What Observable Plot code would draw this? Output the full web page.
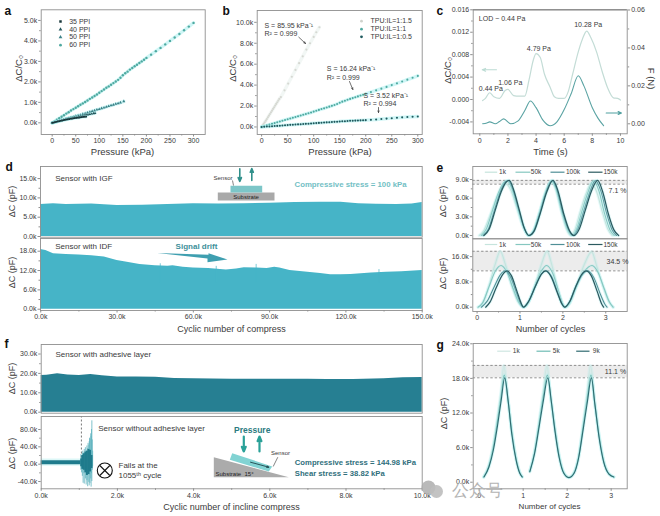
<!DOCTYPE html>
<html><head><meta charset="utf-8">
<script src="https://cdn.jsdelivr.net/npm/d3@7"></script>
<script src="https://cdn.jsdelivr.net/npm/@observablehq/plot@0.6"></script>
<style>
html,body{margin:0;padding:0;background:#fff;width:660px;height:516px;overflow:hidden}
#page{position:relative;width:660px;height:516px}
#page svg{position:absolute;left:0;top:0;background:transparent}
</style></head><body><div id="page"></div>
<script>
// ---------- panel a: pressure (kPa) / dC/C0 (thousands)
const a35x=[0,3,6,9,12,15,18,21,24,27,30,33,36,39,42,45,48,51,54,57,60,63,66,69,72];
const a35y=[0,.01,.03,.05,.07,.08,.1,.11,.13,.14,.16,.17,.18,.2,.21,.22,.23,.24,.25,.26,.27,.28,.29,.295,.3];
const a40x=[0,4,8,12,16,20,24,28,32,36,40,44,48,52,56,60,64,68,72,76,80,84,88,91];
const a40y=[0,.02,.05,.08,.1,.13,.15,.18,.2,.22,.24,.26,.28,.3,.32,.33,.35,.37,.39,.4,.42,.44,.46,.47];
const a50x=[0,5,10,15,20,25,30,35,40,45,50,55,60,65,70,75,80,85,90,95,100,105,110,115,120,125,130,135,140,145,152];
const a50y=[0,.03,.06,.1,.13,.16,.2,.23,.26,.29,.33,.36,.39,.43,.46,.5,.53,.57,.6,.64,.67,.71,.74,.78,.81,.85,.88,.92,.95,.99,1.05];
const a60x=[0,5,10,15,20,25,30,35,40,45,50,55,60,65,70,75,80,85,90,95,100,105,110,115,120,125,130,135,140,145,150,155,160,165,170,175,180,185,190,195,200,210,220,230,240,250,260,270,280,290,300];
const a60y=[0,.07,.15,.22,.3,.37,.45,.52,.6,.67,.74,.81,.88,.95,1.02,1.09,1.17,1.24,1.31,1.38,1.47,1.55,1.63,1.71,1.78,1.86,1.94,2.02,2.1,2.2,2.32,2.42,2.5,2.6,2.68,2.76,2.84,2.92,3,3.08,3.17,3.33,3.5,3.66,3.83,4,4.17,4.34,4.52,4.7,4.88];
// ---------- panel b
const b15x=[0,2,4,6,8,10,12,14,16,18,20,22,24,26,28,30,32,34,37,44,51,58,65,72,79,86,93,100,105,111];
const b15y=[0,.15,.3,.45,.6,.75,.92,1.08,1.24,1.4,1.56,1.72,1.88,2.04,2.2,2.36,2.52,2.68,2.86,3.5,4.15,4.8,5.45,6.1,6.75,7.4,8,8.6,9.05,9.53];
const b10x=a60x, b10y=a60y;
const b05x=[0,5,10,15,20,25,30,35,40,45,50,55,60,65,70,75,80,85,90,95,100,105,110,115,120,125,130,135,140,145,150,155,160,165,170,175,180,185,190,195,200,210,220,230,240,250,260,270,280,290,300];
const b05y=[0,.02,.04,.05,.07,.09,.1,.12,.14,.16,.18,.2,.21,.23,.25,.26,.28,.3,.31,.33,.35,.37,.39,.4,.42,.44,.45,.47,.49,.5,.52,.54,.55,.57,.59,.6,.61,.62,.63,.64,.65,.68,.72,.76,.8,.84,.88,.92,.95,.98,1];
// ---------- panel c
const cLeftT=[.2,.4,.7,1,1.4,1.8,2,2.4,2.8,3.2,3.5,3.8,4,4.3,4.6,5,5.3,5.6,6,6.3,6.6,7,7.3,7.6,7.9,8.3,8.7,9.1,9.5,9.8,10];
const cLeftV=[-.0002,.0002,.0012,.0005,.0002,.0016,.0018,.0007,.0006,.0006,.0035,.007,.0082,.0075,.0045,.0022,.0005,.0002,.0002,.0015,.0045,.0085,.0108,.0122,.011,.0085,.005,.002,.0003,.0002,-.0001];
const cRightT=[.2,.5,.7,1.1,1.4,1.7,2.2,2.7,3.2,3.6,4,4.5,5,5.5,6,6.5,7,7.4,8,8.4,8.8];
const cRightF=[0,.0004,.001,0,.0012,.0026,0,.0014,.007,.012,.0085,.0018,-.001,.0012,.0075,.016,.0253,.02,.0085,.003,-.001];
const cPeaks=["0.44 Pa","1.06 Pa","4.79 Pa","10.28 Pa"];
// ---------- panel d: envelope of the cycled signal, cycles (k) / pF (k)
const d1x=[0,5,10,20,30,40,50,60,70,80,90,100,110,118,125,132,140,146,150];
const d1y=[8.3,8.5,8.3,8.4,8,8.1,8.3,8.5,8.4,8.5,8.6,8.8,8.9,8.85,8.5,8.35,8.3,8.45,8.8];
const d2x=[0,2,5,10,15,20,25,30,34,39,45,50,52,56,60,66,73,77,80,85,89,92,94,98,105,110,114,118,122,126,130,136,142,150];
const d2y=[18.5,18.2,17.2,17,16.8,16.6,16.2,15.1,14.6,13.9,13.5,13.3,13.5,13,12.75,12.6,12.2,12.5,12.9,12.8,12.6,13,12.8,12,11.5,11.1,10.7,10.7,10.8,11,11.2,11.5,11.6,12];
const d2spikes=[[47,14.1],[69,13.3],[84.7,13.9],[133,12.3]];
// ---------- panel e
const e1a=[[.05,0],[.15,.7],[.3,3.2],[.45,5.9],[.58,7.6],[.68,8.25],[.78,7.4],[.92,4.6],[1.06,1.6],[1.18,.1],[1.22,0],[1.32,.9],[1.46,3.9],[1.6,7.1],[1.72,8.6],[1.82,7.7],[1.96,4],[2.08,1.1],[2.18,0],[2.28,.9],[2.4,3.7],[2.54,6.7],[2.66,8.4],[2.78,7.2],[2.92,3.8],[3.05,1],[3.15,0]];
const e1b=[[.1,0],[.22,1.1],[.36,4],[.5,6.9],[.62,8.5],[.7,8.8],[.8,7.7],[.94,4.6],[1.08,1.5],[1.2,0],[1.32,.8],[1.46,3.8],[1.6,7],[1.73,8.8],[1.84,7.6],[1.98,3.8],[2.12,.8],[2.22,0],[2.32,1],[2.45,4],[2.59,7],[2.71,8.8],[2.84,7.2],[2.97,3.6],[3.1,.9],[3.2,0]];
const e1c=[[.14,0],[.26,1],[.4,4],[.54,7],[.66,8.6],[.73,8.85],[.83,7.5],[.96,4.4],[1.09,1.3],[1.2,0],[1.32,.7],[1.46,3.5],[1.6,6.8],[1.75,8.85],[1.86,7.4],[2,3.6],[2.14,.8],[2.24,0],[2.35,1],[2.49,4],[2.63,7],[2.76,8.85],[2.89,7.1],[3.02,3.6],[3.15,.9],[3.25,0]];
const e1d=[[.16,0],[.28,1],[.42,4],[.56,7],[.68,8.6],[.75,8.85],[.85,7.4],[.98,4.2],[1.1,1.2],[1.21,0],[1.33,.7],[1.47,3.5],[1.62,6.9],[1.77,8.85],[1.88,7.3],[2.02,3.5],[2.16,.7],[2.26,0],[2.38,1],[2.52,4],[2.67,7.2],[2.81,8.85],[2.93,7],[3.06,3.5],[3.19,.9],[3.3,0]];
const e2a=[[.03,0],[.14,1.4],[.28,7],[.42,13.5],[.54,17.7],[.66,13.5],[.8,7],[.95,1.8],[1.08,0],[1.2,1.5],[1.34,6.5],[1.5,13.5],[1.63,17.7],[1.75,13],[1.88,6],[1.98,1.5],[2.05,0],[2.16,1.2],[2.3,6],[2.5,13.5],[2.67,17.5],[2.8,12.5],[2.95,6],[3.08,1.5],[3.18,0]];
const e2b=[[.02,0],[.12,1.2],[.28,6.5],[.42,11.3],[.56,13.2],[.7,11],[.84,6],[.98,1.4],[1.08,0],[1.2,1.6],[1.34,6.5],[1.5,11.5],[1.62,13.2],[1.76,10.8],[1.9,5],[2,1],[2.05,0],[2.16,1.4],[2.3,6],[2.5,11.3],[2.68,13.2],[2.82,11],[2.96,6],[3.08,1.8],[3.17,0]];
const e2c=[[.1,0],[.24,2],[.4,6.5],[.55,10.4],[.66,11.5],[.78,9.6],[.92,4.5],[1.02,1],[1.08,0],[1.2,1.8],[1.36,6.6],[1.5,10.5],[1.6,11.5],[1.74,9.6],[1.88,4.6],[1.98,1],[2.04,0],[2.16,1.8],[2.3,6.5],[2.46,10.4],[2.58,11.5],[2.72,9.4],[2.86,4.6],[2.97,1.2],[3.03,0]];
const e2d=[[.2,0],[.3,1.6],[.44,6],[.6,10.4],[.7,11.5],[.8,10],[.93,5],[1.03,1.2],[1.08,0],[1.2,1.8],[1.36,6.6],[1.5,10.5],[1.6,11.5],[1.72,9.8],[1.86,5],[1.98,1],[2.04,0],[2.16,1.8],[2.3,6.5],[2.44,10.4],[2.54,11.5],[2.66,10],[2.8,5],[2.9,1.2],[2.95,0]];
const eNames=["1k","50k","100k","150k"];
const e1Band=[8.25,8.86], e2Band=[11.5,17.7];
// ---------- panel f
const f1x=[0,.15,.43,.7,1,1.3,1.6,2,2.5,3,3.5,4,5,6,7,7.5,8.2,9,9.5,10];
const f1y=[18.9,19,19.8,19.2,18.9,19.4,18.8,18.2,18.1,18,17.4,17.3,17,17,17,16.9,16.8,17.2,17.7,17.9];
const f2Band=[[0,7.7,-1.5],[1.05,7.7,-1.5]];
const f2Spikes=[[1.04,-14,22],[1.06,-20,14],[1.08,-28,24],[1.09,-12,30],[1.1,-44,19],[1.12,-22,26],[1.13,-46,34],[1.15,-18,24],[1.16,-34,38],[1.18,-48,30],[1.19,-26,22],[1.2,-38,42],[1.22,-52,36],[1.23,-20,48],[1.25,-42,44],[1.26,-50,52],[1.27,-24,60],[1.28,-45,58],[1.3,-34,70],[1.31,-53,64],[1.32,-22,80],[1.33,-40,100],[1.34,-14,56],[1.35,-6,30]];
const f2Core=[[1.05,-6,12],[1.08,-12,20],[1.12,-14,24],[1.16,-20,28],[1.2,-26,30],[1.24,-24,34],[1.28,-18,32],[1.32,-10,20]];
const fFailCycle=1.055;
// ---------- panel g
const gA=[[.1,.9],[.22,3],[.32,6.5],[.42,11.5],[.5,16],[.56,20.2],[.64,15.5],[.74,9],[.84,4.2],[.92,1.8],[.98,1],[1.06,null],[1.15,2],[1.26,5.5],[1.36,10.5],[1.46,16],[1.54,20.2],[1.62,15],[1.72,9.5],[1.82,4.6],[1.92,1.8],[2.04,.9],[2.16,1.8],[2.26,4.6],[2.36,10],[2.46,16],[2.53,20.2],[2.62,14.5],[2.73,8],[2.83,3.8],[2.95,1.5],[3.06,.9]];
const gB=[[.1,.9],[.22,2.8],[.32,6],[.42,10.8],[.5,15],[.57,18.6],[.65,14.5],[.74,8.8],[.84,4],[.92,1.7],[.98,.9],[1.06,null],[1.15,1.9],[1.26,5.2],[1.36,10],[1.46,15],[1.55,18.6],[1.63,14.4],[1.72,9.3],[1.82,4.4],[1.92,1.7],[2.04,.8],[2.16,1.7],[2.26,4.4],[2.36,9.5],[2.46,14.8],[2.54,18.6],[2.62,14],[2.73,7.8],[2.83,3.6],[2.95,1.4],[3.06,.9]];
const gC=[[.11,.9],[.22,2.6],[.32,5.5],[.42,10],[.5,14.2],[.58,18.1],[.66,14],[.74,8.4],[.84,3.8],[.92,1.6],[.98,.9],[1.06,null],[1.15,1.8],[1.26,5],[1.36,9.5],[1.46,14.2],[1.56,18.1],[1.64,14],[1.72,9],[1.82,4.2],[1.92,1.6],[2.04,.8],[2.16,1.6],[2.26,4.2],[2.36,9],[2.46,14],[2.55,18.1],[2.63,13.5],[2.73,7.5],[2.83,3.5],[2.95,1.4],[3.06,.9]];
const gNames=["1k","5k","9k"];
const gBand=[18.1,20.25];

// ---------- helpers
const FONT="Liberation Sans, Arial, sans-serif";
const GREY="#8f8f8f", INK="#3a3a3a";
const zipXY=(xs,ys)=>xs.map((x,i)=>({x,y:ys[i]}));
const pairs=a=>a.map(([x,y])=>({x,y}));
const k1=d=>d.toFixed(1)+"k";
const page=document.getElementById("page");
function panel({box,xd,yd,xt,yt,xm=[],ym=[],xf,yf=k1,marks=[],frame=true,right=false,noX=false,noY=false}){
  const [l,t,r,b]=box;
  const axisCommon={stroke:GREY,fill:INK,fontSize:7,tickSize:2.5,tickPadding:1.5,label:null};
  const chart=Plot.plot({
    width:660,height:516,marginLeft:l,marginTop:t,marginRight:660-r,marginBottom:516-b,
    x:{domain:xd,axis:null},y:{domain:yd,axis:null},
    style:{background:"transparent",fontFamily:FONT},
    marks:[
      ...marks,
      frame?Plot.frame({stroke:GREY,strokeWidth:.9}):null,
      noX?null:Plot.axisX(xm,{anchor:"bottom",tickSize:1.5,stroke:GREY,fill:"none",label:null}),
      noX?null:Plot.axisX(xt,{...axisCommon,anchor:"bottom",tickFormat:xf??(d=>d)}),
      noY?null:Plot.axisY(ym,{anchor:right?"right":"left",tickSize:1.5,stroke:GREY,fill:"none",label:null}),
      noY?null:Plot.axisY(yt,{...axisCommon,anchor:right?"right":"left",tickFormat:yf}),
    ]
  });
  page.appendChild(chart);
}
function dots(xs,ys,fill,symbol,r,halo){
  const rows=zipXY(xs,ys);
  return [Plot.line(rows,{x:"x",y:"y",stroke:halo,strokeWidth:3.4,strokeOpacity:.55}),
          Plot.dot(rows,{x:"x",y:"y",fill,symbol,r,stroke:"none"})];
}
function curve(rows,stroke,w=1.1,halo=true){
  const d=pairs(rows);
  return [halo?Plot.line(d,{x:"x",y:"y",stroke:"#a8ecec",strokeWidth:3.2,strokeOpacity:.28,curve:"monotone-x"}):null,
          Plot.line(d,{x:"x",y:"y",stroke,strokeWidth:w,curve:"monotone-x"})];
}
function band(x1,x2,[lo,hi]){
  return [Plot.rect([0],{x1,x2,y1:lo,y2:hi,fill:"#ececec"}),
          Plot.ruleY([lo,hi],{stroke:"#777",strokeWidth:.8,strokeDasharray:"2.4,2"})];
}

// a
panel({box:[40.7,9.3,204.7,134],xd:[-23.3,324.8],yd:[-.57,5.52],xt:[0,50,100,150,200,250,300],xm:[25,75,125,175,225,275],yt:[0,1,2,3,4,5],ym:[.5,1.5,2.5,3.5,4.5],
 marks:[...dots(a60x,a60y,"#4fa9a0","circle",1.2,"#a8efef"),...dots(a50x,a50y,"#3c8288","triangle",1.1,"#a8efef"),...dots(a40x,a40y,"#24565c","triangle",1,"#a8efef"),...dots(a35x,a35y,"#17363a","square",1,"#a8efef")]});
// b
panel({box:[256.7,10,421.7,134],xd:[-8.5,308.5],yd:[-.72,11.13],xt:[0,50,100,150,200,250,300],xm:[25,75,125,175,225,275],yt:[0,2,4,6,8,10],ym:[1,3,5,7,9],
 marks:[...dots(b15x,b15y,"#d6d8d2","circle",1.1,"#e8f0ec"),...dots(b10x,b10y,"#4fa9a0","circle",1.05,"#a8efef"),...dots(b05x,b05y,"#1f5a5e","circle",1.05,"#a8efef")]});
// c
panel({box:[472.7,9.3,626.7,133.3],xd:[-.47,10.48],yd:[-.00612,.016],xt:[0,2,4,6,8,10],xm:[1,3,5,7,9],yt:[-.004,0,.004,.008,.012,.016],ym:[-.002,.002,.006,.01,.014],yf:d=>d.toFixed(3),
 marks:[Plot.line(zipXY(cLeftT,cLeftV),{x:"x",y:"y",stroke:"#c3dcd6",strokeWidth:1.2,curve:"monotone-x"}),Plot.ruleY([.016],{stroke:"#666",strokeWidth:1})]});
panel({box:[472.7,9.3,626.7,133.3],xd:[-.47,10.48],yd:[-.00527,.0601],frame:false,noX:true,right:true,yt:[0,.02,.04,.06],ym:[.01,.03,.05],yf:d=>d.toFixed(2),
 marks:[Plot.line(zipXY(cRightT,cRightF),{x:"x",y:"y",stroke:"#5aa3a3",strokeWidth:1.1,curve:"monotone-x"})]});
// d
const dFill="#46b4c7";
panel({box:[40,166,421.7,236.7],xd:[-.1,150],yd:[-.18,18.13],noX:true,xt:[],yt:[0,5,10,15],ym:[2.5,7.5,12.5],
 marks:[Plot.areaY(zipXY(d1x,d1y),{x:"x",y1:0,y2:"y",fill:dFill})]});
panel({box:[40,238,421.7,310],xd:[-.1,150],yd:[-.4,21.94],xt:[0,30,60,90,120,150],xm:[15,45,75,105,135],xf:k1,yt:[0,6,12,18],ym:[3,9,15],
 marks:[Plot.areaY(zipXY(d2x,d2y),{x:"x",y1:0,y2:"y",fill:dFill}),Plot.ruleX(d2spikes.map(([x,y])=>({x,y})),{x:"x",y1:8,y2:"y",stroke:dFill,strokeWidth:.7})]});
// e
const eCols=["#c6e4dd","#86c7c0","#4f8f96","#2b5a60"];
panel({box:[472.3,166,626.7,238.3],xd:[-.1,3.5],yd:[-.53,11.09],noX:true,xt:[],yt:[0,3,6,9],ym:[1.5,4.5,7.5],
 marks:[...band(-.1,3.5,e1Band),...[e1a,e1b,e1c,e1d].flatMap((s,i)=>curve(s,eCols[i],i==3?1.25:1.1))]});
panel({box:[472.3,238.3,626.7,311],xd:[-.1,3.5],yd:[-1.36,21.65],xt:[0,1,2,3],xm:[.5,1.5,2.5],yt:[0,8,16],ym:[4,12],
 marks:[...band(-.1,3.5,e2Band),...[e2a,e2b,e2c,e2d].flatMap((s,i)=>curve(s,eCols[i],i==3?1.25:1.1))]});
// f
const fDark="#267f92";
panel({box:[40.7,344,421.7,412.7],xd:[0,10],yd:[-.52,34.9],noX:true,xt:[],yt:[0,10,20,30],ym:[5,15,25],
 marks:[Plot.areaY(zipXY(f1x,f1y),{x:"x",y1:0,y2:"y",fill:fDark})]});
panel({box:[40.7,416,421.7,488.3],xd:[0,10],yd:[-56.8,110],xt:[0,2,4,6,8,10],xm:[1,3,5,7,9],xf:k1,yt:[-40,0,40,80],ym:[-20,20,60],
 marks:[
  Plot.ruleX([fFailCycle],{y1:5,y2:110,stroke:"#666",strokeWidth:.9,strokeDasharray:"2,2"}),
  Plot.areaY(f2Band,{x:d=>d[0],y1:-5,y2:12,fill:"#c4f1f1",fillOpacity:.6}),
  Plot.areaY(f2Band,{x:d=>d[0],y1:d=>d[2],y2:d=>d[1],fill:"#1f7b8c"}),
  Plot.ruleX(f2Spikes,{x:d=>d[0],y1:d=>d[1],y2:d=>d[2],stroke:"#5fb4bf",strokeWidth:.8}),
  Plot.ruleX(f2Core,{x:d=>d[0],y1:d=>d[1],y2:d=>d[2],stroke:"#1f7b8c",strokeWidth:2})
 ]});
// g
const gCols=["#cfe6e1","#6fbcb4","#2f6a70"];
panel({box:[472.7,343,626.7,488.3],xd:[-.136,3.364],yd:[-1.14,24.05],xt:[0,1,2,3],xm:[.5,1.5,2.5],yt:[0,6,12,18,24],ym:[3,9,15,21],
 marks:[...band(-.136,3.364,gBand),...[gA,gB,gC].flatMap((s,i)=>curve(s,gCols[i],1.1))]});

// ---------- annotation layer on a page-sized scale
const T=(t,x,y,o={})=>({t,x,y,size:o.s??7.5,fill:o.c??INK,rot:o.r??0,w:o.w??"normal",a:o.a??"start",f:o.f??FONT});
const notes=[
 T("a",4,11,{s:12,w:"bold",c:"#111"}),T("b",222,11,{s:12,w:"bold",c:"#111"}),T("c",436,11,{s:12,w:"bold",c:"#111"}),
 T("d",5,167,{s:12,w:"bold",c:"#111"}),T("e",436,168,{s:12,w:"bold",c:"#111"}),T("f",4,344,{s:12,w:"bold",c:"#111"}),T("g",436,345,{s:12,w:"bold",c:"#111"}),
 // axis titles
 T("Pressure (kPa)",122,151,{s:9.5,a:"middle"}),T("Pressure (kPa)",339.5,151,{s:9.5,a:"middle"}),T("Time (s)",550,151,{s:9.5,a:"middle"}),
 T("ΔC/C₀",18,68,{s:9.5,a:"middle",r:-90}),T("ΔC/C₀",232,68,{s:9.5,a:"middle",r:-90}),T("ΔC/C₀",447,70,{s:9.5,a:"middle",r:-90}),T("F (N)",651,78,{s:9.5,a:"middle",r:90}),
 T("ΔC (pF)",12,201,{s:9,a:"middle",r:-90}),T("ΔC (pF)",12,272,{s:9,a:"middle",r:-90}),T("ΔC (pF)",443,201,{s:9,a:"middle",r:-90}),T("ΔC (pF)",443,273,{s:9,a:"middle",r:-90}),
 T("ΔC (pF)",12,378,{s:9,a:"middle",r:-90}),T("ΔC (pF)",12,453,{s:9,a:"middle",r:-90}),T("ΔC (pF)",444,413,{s:9,a:"middle",r:-90}),
 T("Cyclic number of compress",231,328.5,{s:9,a:"middle"}),T("Number of cycles",550,328.5,{s:9,a:"middle"}),T("Cyclic number of incline compress",231,506.5,{s:9,a:"middle"}),T("Number of cycles",549,506,{s:8,a:"middle"}),
 // a legend
 T("35 PPI",68.7,21,{s:7}),T("40 PPI",68.7,29,{s:7}),T("50 PPI",68.7,36.7,{s:7}),T("60 PPI",68.7,44.7,{s:7}),
 // b
 T("TPU:IL=1:1.5",370,20.7,{s:7}),T("TPU:IL=1:1",370,28.7,{s:7}),T("TPU:IL=1:0.5",370,36.3,{s:7}),
 T("S = 85.95 kPa⁻¹",264,25,{s:7}),T("R² = 0.999",264,33.3,{s:7}),T("S = 16.24 kPa⁻¹",326.3,68,{s:7}),T("R² = 0.999",326.3,77,{s:7}),T("S = 3.52 kPa⁻¹",363,95,{s:7}),T("R² = 0.994",363,103.5,{s:7}),
 // c
 T("LOD ~ 0.44 Pa",478.3,18,{s:7}),T(cPeaks[0],478.3,88,{s:7}),T(cPeaks[1],497.7,82,{s:7}),T(cPeaks[2],526.3,48,{s:7}),T(cPeaks[3],573.7,24,{s:7}),
 // d
 T("Sensor with IGF",54.7,177.7,{s:8}),T("Sensor with IDF",54.7,246.3,{s:8}),T("Signal drift",196,245.7,{s:8,a:"middle",w:"bold",c:"#3d8f9a"}),
 T("Compressive stress = 100 kPa",294,184.3,{s:7.8,w:"bold",c:"#72c0c4"}),T("Sensor",213,178,{s:6}),T("Substrate",245.6,196.2,{s:6,a:"middle",c:"#222"}),
 // e
 ...eNames.map((n,i)=>T(n,[502,535.5,572.5,610][i],171.7,{s:6.5,a:"middle"})),T("7.1 %",617,190,{s:7,a:"middle"}),
 ...eNames.map((n,i)=>T(n,[502,535.5,572.5,610][i],244,{s:6.5,a:"middle"})),T("34.5 %",617,261.7,{s:7,a:"middle"}),
 // f
 T("Sensor with adhesive layer",55,354.3,{s:8}),T("Sensor without adhesive layer",97.7,428,{s:8}),T("Fails at the",118,465,{s:8}),T("1055ᵗʰ cycle",118,474.7,{s:8}),
 T("Pressure",251.7,429.7,{s:8.5,a:"middle",w:"bold",c:"#2b7a80"}),T("Sensor",280,452.3,{s:6,a:"middle"}),T("Substrate  15°",215,473.7,{s:6,c:"#222"}),
 T("Compressive stress = 144.98 kPa",294.3,462,{s:7.7,w:"bold",c:"#2f6f7c"}),T("Shear stress = 38.82 kPa",294.3,473.3,{s:7.7,w:"bold",c:"#2f6f7c"}),
 // g
 ...gNames.map((n,i)=>T(n,[515.7,555.7,595.7][i],350.7,{s:6.5,a:"middle"})),T("11.1 %",615,371.7,{s:7,a:"middle"}),
 // watermark
 T("公众号",451,490,{s:17,c:"#b4b4b4",f:"Noto Sans CJK SC"}),
];
const segments=[
 // [x1,y1,x2,y2,colour,width]
 [484.3,171.7,496.7,171.7,eCols[0],1.2],[515,171.7,530,171.7,eCols[1],1.2],[550,171.7,564,171.7,eCols[2],1.2],[587.7,171.7,602,171.7,eCols[3],1.2],
 [484.3,244,496.7,244,eCols[0],1.2],[515,244,530,244,eCols[1],1.2],[550,244,564,244,eCols[2],1.2],[587.7,244,602,244,eCols[3],1.2],
 [496.7,350.7,510,350.7,gCols[0],1.2],[536,350.7,550,350.7,gCols[1],1.2],[575.7,350.7,589,350.7,gCols[2],1.2],
 [232,180,233,185,"#333",.6],[277.3,456.7,272.7,466,"#333",.6],
 [99.3,465,109.3,475,"#111",1.1],[109.3,465,99.3,475,"#111",1.1],
];
const arrows=[
 // [x1,y1,x2,y2,colour,width,head]
 [298.3,36.7,305,43,"#333",.7,4],[349,81,352.3,89,"#333",.7,4],[378,107,378,112,"#333",.7,4],
 [496,69.3,481.7,69.3,"#bcdcd4",1.1,5],[605.7,112.5,621,112.5,"#4f9f9f",1.1,5],
 [239.3,168.3,239.3,181,"#2f8f8a",1.6,6],[251.3,180,251.3,168,"#2f8f8a",1.6,6],
 [243.3,436,243.3,451,"#2aa198",2.2,8],[259,451,259,436,"#2aa198",2.2,8],
 [250,461.7,268.3,466.7,"#12343a",.8,4],
];
const polys=[
 {c:"#a9a9a9",p:[[217.3,192],[274,192],[274,200],[217.3,200]]},
 {c:"#7cc6c8",p:[[230,185.3],[261.7,185.3],[261.7,192],[230,192]]},
 {c:"#3f9fb0",p:[[156.7,252.5],[208,254.3],[208,252.8],[227,259],[207,261.7],[207,258]]},
 {c:"#ababab",p:[[213.3,456.7],[288.3,476.7],[213.3,476.7]]},
 {c:"#82d3d3",p:[[231.7,452.7],[271.7,466],[268.3,471],[229.3,459.3]]},
];
const legendA=[[60,21,"square","#17363a"],[60,29,"triangle","#24565c"],[60,36.7,"triangle","#3c8288"],[60,44.7,"circle","#4fa9a0"]];
const legendB=[[361,20.7,"#cfd2cc"],[361,28.7,"#4fa9a0"],[361,36.3,"#1f5a5e"]];
const textMark=a=>Plot.text(notes.filter(n=>n.a===a&&n.w==="normal"),{x:"x",y:"y",text:"t",fontSize:"size",fill:"fill",rotate:"rot",textAnchor:a,fontFamily:d=>d.f});
const overlay=Plot.plot({
  width:660,height:516,margin:0,
  x:{domain:[0,660],range:[0,660],axis:null},y:{domain:[0,516],range:[0,516],axis:null},color:{type:"identity"},
  style:{background:"transparent",fontFamily:FONT},
  marks:[
   ...polys.map(o=>Plot.line(o.p,{x:d=>d[0],y:d=>d[1],fill:o.c,stroke:"none"})),
   Plot.dot([[104.3,470]],{x:d=>d[0],y:d=>d[1],r:7.5,stroke:"#111",strokeWidth:1.1,fill:"white"}),
   Plot.dot([[428,487]],{x:d=>d[0],y:d=>d[1],r:7,fill:"#adadad",fillOpacity:.85}),
   Plot.dot([[436,491]],{x:d=>d[0],y:d=>d[1],r:6.5,fill:"#bdbdbd",fillOpacity:.9}),
   ...segments.map(s=>Plot.link([s],{x1:d=>d[0],y1:d=>d[1],x2:d=>d[2],y2:d=>d[3],stroke:s[4],strokeWidth:s[5]})),
   ...arrows.map(s=>Plot.arrow([s],{x1:d=>d[0],y1:d=>d[1],x2:d=>d[2],y2:d=>d[3],stroke:s[4],strokeWidth:s[5],headLength:s[6],headAngle:45})),
   ...legendA.map(s=>Plot.dot([s],{x:d=>d[0],y:d=>d[1],symbol:s[2],fill:s[3],r:1.4})),
   ...legendB.map(s=>Plot.dot([s],{x:d=>d[0],y:d=>d[1],fill:s[2],r:1.4})),
   ...["start","middle"].map(textMark),
   ...["start","middle"].map(a=>Plot.text(notes.filter(n=>n.a===a&&n.w==="bold"),{x:"x",y:"y",text:"t",fontSize:"size",fill:"fill",rotate:"rot",textAnchor:a,fontWeight:"bold"})),
  ]
});
page.appendChild(overlay);
</script></body></html>
